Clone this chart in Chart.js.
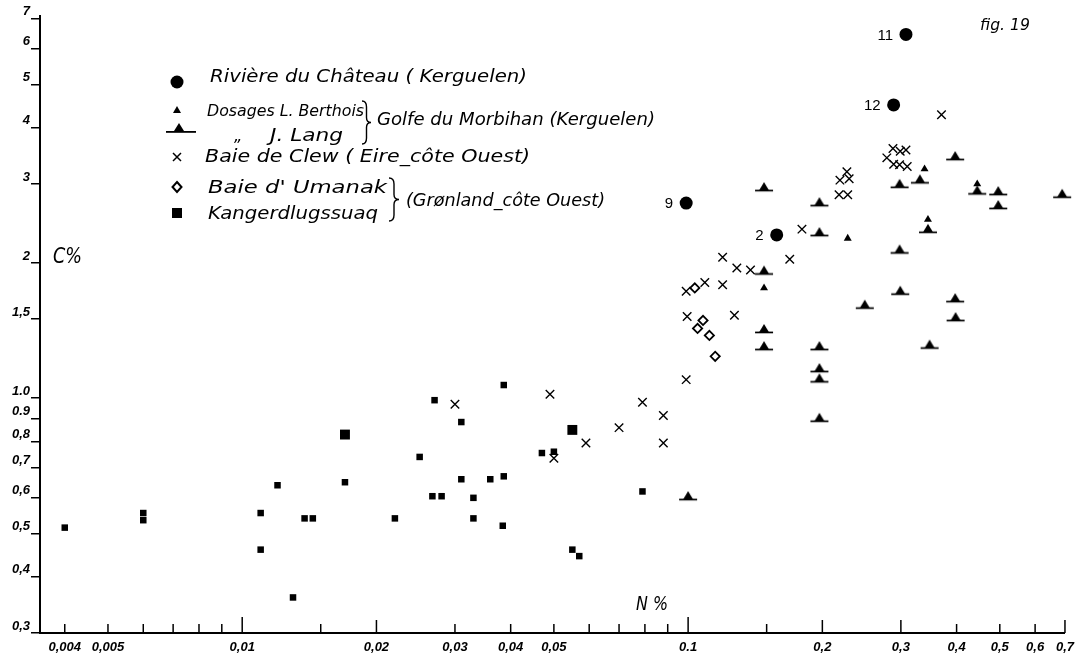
<!DOCTYPE html>
<html>
<head>
<meta charset="utf-8">
<script src="https://cdn.jsdelivr.net/npm/chart.js@4.4.1/dist/chart.umd.min.js"></script>
<style>
	html, body { margin: 0; padding: 0; background: #fff; }
</style>
</head>
<body>
<canvas id="cChart" width="1081" height="658"></canvas>
<script>
// axis ticks
const xTicks = [0.004, 0.005, 0.01, 0.02, 0.03, 0.04, 0.05, 0.1, 0.2, 0.3, 0.4, 0.5, 0.6, 0.7];
const xTickLabels = ["0,004", "0,005", "0,01", "0,02", "0,03", "0,04", "0,05", "0.1", "0,2", "0,3", "0,4", "0,5", "0,6", "0,7"];
const xMinorTicks = [0.006, 0.007, 0.008, 0.009, 0.015, 0.06, 0.07, 0.08, 0.09, 0.15];
const yTicks = [0.3, 0.4, 0.5, 0.6, 0.7, 0.8, 0.9, 1, 1.5, 2, 3, 4, 5, 6, 7];
const yTickLabels = ["0,3", "0,4", "0,5", "0,6", "0,7", "0,8", "0.9", "1.0", "1,5", "2", "3", "4", "5", "6", "7"];

// Rivière du Château (Kerguelen)
const chateauN = [0.099, 0.158, 0.308, 0.289];
const chateauC = [2.72, 2.31, 6.46, 4.5];
const chateauNames = ["9", "2", "11", "12"];

// Golfe du Morbihan - dosages L. Berthois
const berthoisN = [0.148, 0.228, 0.339, 0.445, 0.345];
const berthoisC = [1.76, 2.27, 3.24, 3.0, 2.5];

// Golfe du Morbihan - dosages J. Lang
const langN = [0.148, 0.197, 0.197, 0.148, 0.148, 0.148, 0.197, 0.197, 0.197, 0.197, 0.1, 0.298, 0.331,
	0.397, 0.445, 0.496, 0.496, 0.69, 0.345, 0.298, 0.299, 0.249, 0.397, 0.398, 0.348];
const langC = [2.96, 2.74, 2.35, 1.93, 1.43, 1.31, 1.31, 1.17, 1.11, 0.907, 0.607, 3.01, 3.08,
	3.47, 2.91, 2.9, 2.7, 2.86, 2.39, 2.15, 1.74, 1.62, 1.675, 1.52, 1.32];

// Baie de Clew (Eire)
const clewN = [0.03, 0.05, 0.049, 0.059, 0.07, 0.079, 0.088, 0.088, 0.099, 0.0995, 0.099, 0.109, 0.1195,
	0.1195, 0.1286, 0.138, 0.127, 0.169, 0.18, 0.219, 0.227, 0.2297, 0.218, 0.228, 0.288, 0.299, 0.308,
	0.279, 0.289, 0.298, 0.31, 0.37];
const clewC = [0.97, 0.735, 1.02, 0.795, 0.86, 0.98, 0.915, 0.795, 1.1, 1.52, 1.73, 1.81, 1.79,
	2.06, 1.95, 1.93, 1.53, 2.04, 2.38, 3.06, 3.195, 3.08, 2.84, 2.84, 3.6, 3.55, 3.57,
	3.43, 3.32, 3.31, 3.28, 4.28];

// Baie d'Umanak (Grønland)
const umanakN = [0.1035, 0.108, 0.105, 0.1116, 0.115];
const umanakC = [1.76, 1.49, 1.43, 1.38, 1.24];

// Kangerdlugssuaq (Grønland)
const kangerN = [0.004, 0.006, 0.006, 0.011, 0.011, 0.012, 0.013, 0.0138, 0.0144, 0.017, 0.017, 0.022,
	0.025, 0.027, 0.0267, 0.028, 0.031, 0.031, 0.033, 0.033, 0.036, 0.0386, 0.0386, 0.0384, 0.047, 0.05,
	0.055, 0.055, 0.057, 0.079];
const kangerC = [0.515, 0.555, 0.535, 0.555, 0.46, 0.64, 0.36, 0.54, 0.54, 0.83, 0.65, 0.54,
	0.74, 0.99, 0.605, 0.605, 0.885, 0.66, 0.6, 0.54, 0.66, 0.67, 1.07, 0.52, 0.755, 0.76,
	0.85, 0.46, 0.445, 0.62];

const toPoints = (xs, ys) => xs.map((x, i) => ({ x: x, y: ys[i] }));

// triangle with a base line, used for the J. Lang values
const langMark = document.createElement("canvas");
langMark.width = 20;
langMark.height = 13;
const lc = langMark.getContext("2d");
lc.fillStyle = "#000";
lc.beginPath();
lc.moveTo(10, 2);
lc.lineTo(14.8, 10);
lc.lineTo(5.2, 10);
lc.closePath();
lc.fill();
lc.fillRect(1, 9.6, 18, 1.7);

function txt(ctx, s, x, y, size, w, font) {
	ctx.save();
	ctx.font = font || "italic " + size + 'px "DejaVu Sans"';
	ctx.textBaseline = "alphabetic";
	ctx.textAlign = "left";
	const m = ctx.measureText(s).width;
	ctx.translate(x, y);
	if (w) ctx.scale(w / m, 1);
	ctx.fillText(s, 0, 0);
	ctx.restore();
}

function brace(ctx, x, y1, y2, w) {
	const ym = (y1 + y2) / 2;
	ctx.beginPath();
	ctx.moveTo(x, y1);
	ctx.quadraticCurveTo(x + w / 2, y1, x + w / 2, y1 + 6);
	ctx.lineTo(x + w / 2, ym - 5);
	ctx.quadraticCurveTo(x + w / 2, ym, x + w, ym);
	ctx.quadraticCurveTo(x + w / 2, ym, x + w / 2, ym + 5);
	ctx.lineTo(x + w / 2, y2 - 6);
	ctx.quadraticCurveTo(x + w / 2, y2, x, y2);
	ctx.stroke();
}

const tickFont = { family: '"Liberation Sans"', size: 13, style: "italic", weight: "bold" };

const figPlugin = {
	id: "figPlugin",
	afterDraw(chart) {
		const ctx = chart.ctx;
		const xs = chart.scales.x;
		const area = chart.chartArea;
		ctx.save();
		ctx.strokeStyle = "#000";
		ctx.fillStyle = "#000";
		ctx.lineWidth = 1.5;

		// N% ticks stand up from the axis
		xTicks.concat(xMinorTicks).forEach((v) => {
			const px = xs.getPixelForValue(v);
			let len = 9;
			if (v === 0.01 || v === 0.1) len = 16;
			else if ([0.02, 0.2, 0.3, 0.7].includes(v)) len = 13;
			ctx.beginPath();
			ctx.moveTo(px, area.bottom);
			ctx.lineTo(px, area.bottom - len);
			ctx.stroke();
		});

		// names beside the Château points
		const meta = chart.getDatasetMeta(0);
		ctx.font = '15px "Liberation Sans"';
		ctx.textAlign = "right";
		ctx.textBaseline = "middle";
		meta.data.forEach((pt, i) => {
			ctx.fillText(chateauNames[i], pt.x - 13, pt.y + 1);
		});

		// legend marks
		ctx.beginPath();
		ctx.arc(177, 82, 6.5, 0, Math.PI * 2);
		ctx.fill();
		ctx.beginPath();
		ctx.moveTo(177, 106);
		ctx.lineTo(181, 113);
		ctx.lineTo(173, 113);
		ctx.closePath();
		ctx.fill();
		ctx.beginPath();
		ctx.moveTo(179, 123);
		ctx.lineTo(184, 131);
		ctx.lineTo(174, 131);
		ctx.closePath();
		ctx.fill();
		ctx.fillRect(166, 131, 30, 1.8);
		ctx.lineWidth = 1.5;
		ctx.beginPath();
		ctx.moveTo(173, 153);
		ctx.lineTo(181, 161);
		ctx.moveTo(181, 153);
		ctx.lineTo(173, 161);
		ctx.stroke();
		ctx.lineWidth = 2;
		ctx.beginPath();
		ctx.moveTo(177, 182);
		ctx.lineTo(181.5, 187);
		ctx.lineTo(177, 192);
		ctx.lineTo(172.5, 187);
		ctx.closePath();
		ctx.stroke();
		ctx.fillRect(172, 208, 10, 10);

		// legend text
		txt(ctx, "Rivière du Château ( Kerguelen)", 210, 82, 18, 317);
		txt(ctx, "Dosages L. Berthois", 207, 116, 16, 157);
		txt(ctx, "„", 234, 141, 16);
		txt(ctx, "J. Lang", 270, 141, 17, 73);
		txt(ctx, "Golfe du Morbihan (Kerguelen)", 377, 125, 17, 278);
		txt(ctx, "Baie de Clew ( Eire_côte Ouest)", 205, 162, 18, 325);
		txt(ctx, "Baie d' Umanak", 208, 193, 18, 179);
		txt(ctx, "(Grønland_côte Ouest)", 406, 206, 18, 199);
		txt(ctx, "Kangerdlugssuaq", 208, 219, 18, 170);
		ctx.lineWidth = 1.4;
		brace(ctx, 362, 101, 144, 9);
		brace(ctx, 389, 178, 221, 10);

		// axis names and figure number
		txt(ctx, "C%", 53, 263, 21, 29);
		txt(ctx, "N %", 636, 610, 20, 32);
		txt(ctx, "fig. 19", 980, 30, 16, 50);
		ctx.restore();
	},
};

const ctx = document.getElementById("cChart");
const myChart = new Chart(ctx, {
	type: "scatter",
	data: {
		datasets: [
			{
				label: "Rivière du Château (Kerguelen)",
				data: toPoints(chateauN, chateauC),
				pointStyle: "circle",
				pointRadius: 6.5,
				backgroundColor: "#000",
				borderWidth: 0,
				clip: false,
			},
			{
				label: "Dosages L. Berthois",
				data: toPoints(berthoisN, berthoisC),
				pointStyle: "triangle",
				pointRadius: 4.6,
				backgroundColor: "#000",
				borderWidth: 0,
				clip: false,
			},
			{
				label: "J. Lang",
				data: toPoints(langN, langC),
				pointStyle: langMark,
				pointRadius: 6,
				clip: false,
			},
			{
				label: "Baie de Clew (Eire_côte Ouest)",
				data: toPoints(clewN, clewC),
				pointStyle: "crossRot",
				pointRadius: 6,
				borderColor: "#000",
				borderWidth: 1.4,
				clip: false,
			},
			{
				label: "Baie d'Umanak",
				data: toPoints(umanakN, umanakC),
				pointStyle: "rectRot",
				pointRadius: 4.6,
				backgroundColor: "#fff",
				borderColor: "#000",
				borderWidth: 1.8,
				clip: false,
			},
			{
				label: "Kangerdlugssuaq",
				data: toPoints(kangerN, kangerC),
				pointStyle: "rect",
				pointRadius: kangerN.map((v, i) => (i === 9 || i === 26 ? 7 : 4.6)),
				backgroundColor: "#000",
				borderWidth: 0,
				clip: false,
			},
		],
	},
	options: {
		responsive: false,
		animation: false,
		layout: {
			padding: { top: 16, right: 13, bottom: 0, left: 0 },
		},
		plugins: {
			legend: { display: false },
			tooltip: { enabled: false },
		},
		scales: {
			x: {
				type: "logarithmic",
				min: 0.00352,
				max: 0.7,
				afterBuildTicks: (scale) => {
					scale.ticks = xTicks.map((v) => ({ value: v }));
				},
				afterFit: (scale) => {
					scale.height = 25;
				},
				grid: { display: false, drawTicks: false },
				border: { display: true, color: "#000", width: 2 },
				ticks: {
					autoSkip: false,
					maxRotation: 0,
					minRotation: 0,
					padding: 7,
					color: "#000",
					font: tickFont,
					callback: (v, i) => xTickLabels[i],
				},
			},
			y: {
				type: "logarithmic",
				min: 0.3,
				max: 7.1,
				afterBuildTicks: (scale) => {
					scale.ticks = yTicks.map((v) => ({ value: v }));
				},
				afterFit: (scale) => {
					scale.width = 40;
				},
				grid: { display: true, drawOnChartArea: false, drawTicks: true, tickLength: 9, color: "#000", lineWidth: 1.5 },
				border: { display: true, color: "#000", width: 2 },
				ticks: {
					autoSkip: false,
					padding: 1,
					labelOffset: -7,
					color: "#000",
					font: tickFont,
					callback: (v, i) => yTickLabels[i],
				},
			},
		},
	},
	plugins: [figPlugin],
});
</script>
</body>
</html>
